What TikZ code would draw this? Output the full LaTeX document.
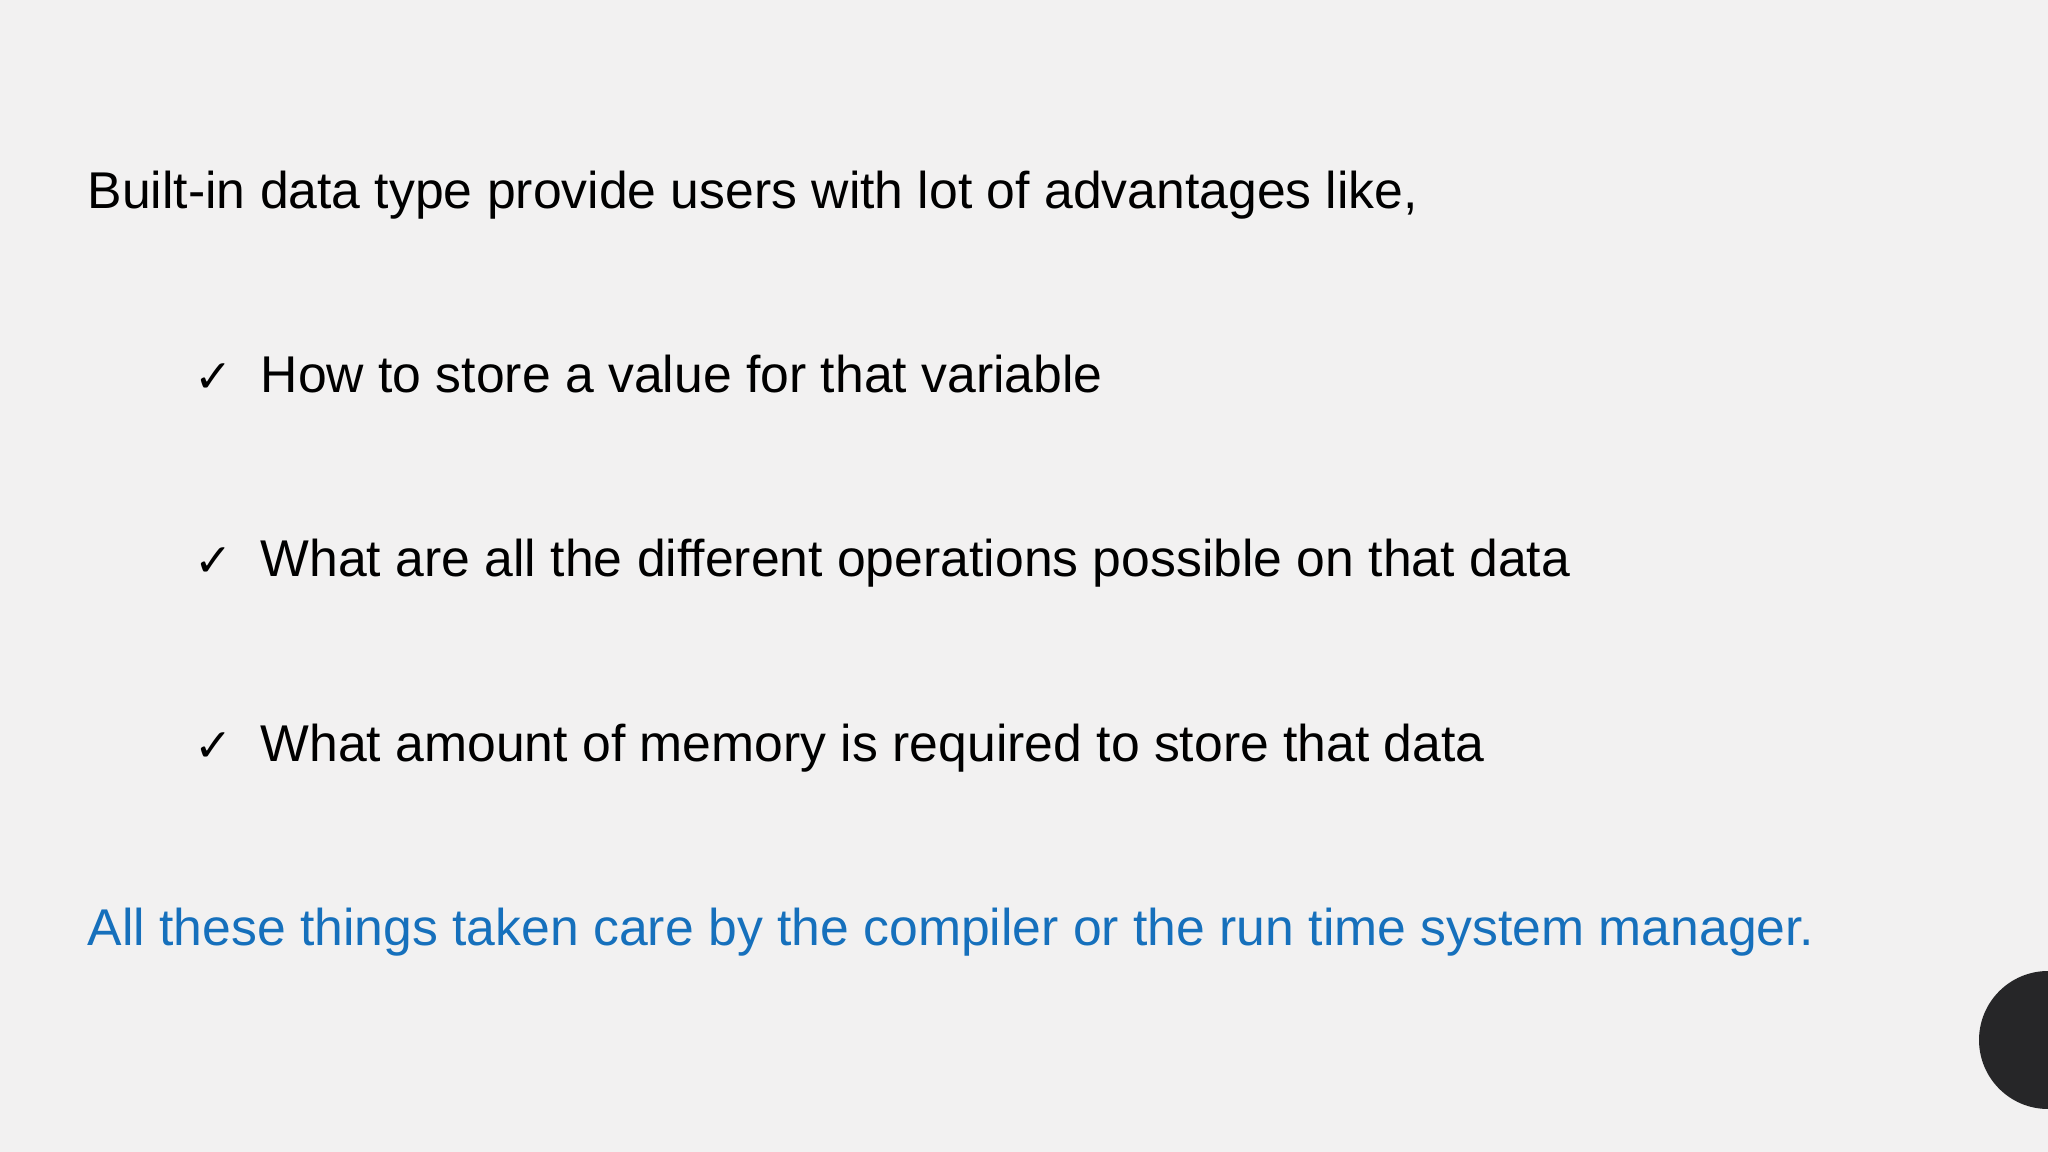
\documentclass[tikz,border=0pt]{standalone}
\usepackage{fontspec}
\setmainfont{Liberation Sans}
\newfontfamily\symfont{DejaVu Sans}
\definecolor{bg}{RGB}{242,241,241}
\definecolor{blu}{RGB}{22,112,188}
\definecolor{dark}{RGB}{38,38,40}
\begin{document}
\begin{tikzpicture}[x=0.01cm,y=-0.01cm,
  txt/.style={anchor=base west,inner sep=0,font=\fontsize{14.7}{17}\selectfont},
  chk/.style={anchor=base west,inner sep=0,font=\symfont\fontsize{13}{15}\selectfont}]
\fill[bg] (0,0) rectangle (2048,1152);
\useasboundingbox (0,0) rectangle (2048,1152);
\fill[dark] (2048,1040) circle (69);
\node[txt] (t0) at (87,209) {Built-in data type provide users with lot of advantages like,};
\node[chk] (c1) at (194,393) {✓};
\node[txt] (t1) at (260,393) {How to store a value for that variable};
\node[chk] (c2) at (194,577) {✓};
\node[txt] (t2) at (260,577) {What are all the different operations possible on that data};
\node[chk] (c3) at (194,761) {✓};
\node[txt] (t3) at (260,761) {What amount of memory is required to store that data};
\node[txt,text=blu] (t4) at (87,945) {All these things taken care by the compiler or the run time system manager.};
\end{tikzpicture}
\end{document}
